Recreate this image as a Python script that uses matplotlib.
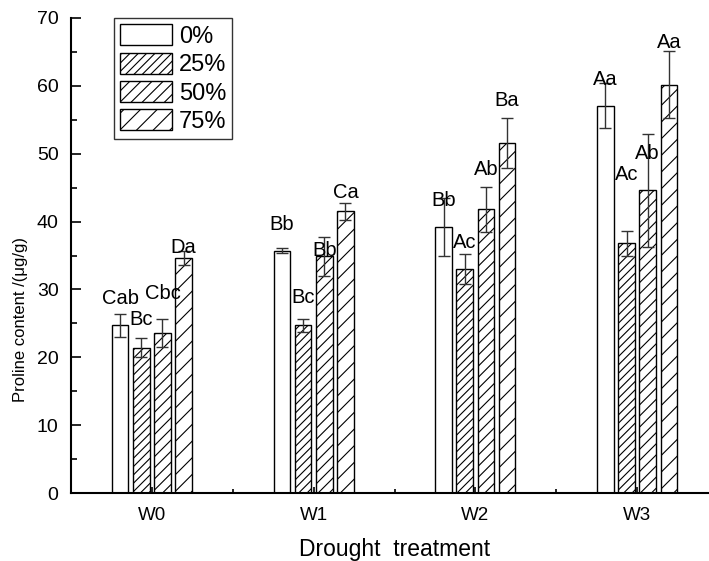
import numpy as np
import matplotlib
matplotlib.use("Agg")
import matplotlib.pyplot as plt

plt.rcParams['font.family'] = ['Liberation Sans', 'DejaVu Sans']
plt.rcParams['hatch.linewidth'] = 0.8

# datos
groups = ['W0', 'W1', 'W2', 'W3']
series = ['0%', '25%', '50%', '75%']
hatches = ['', '////', '///', '//']

means = [
    [24.7, 35.7, 39.2, 57.1],   # 0%
    [21.4, 24.7, 33.0, 36.8],   # 25%
    [23.6, 34.9, 41.8, 44.6],   # 50%
    [34.6, 41.5, 51.6, 60.2],   # 75%
]
errs = [
    [1.7, 0.35, 4.3, 3.3],
    [1.4, 1.0, 2.25, 1.8],
    [2.1, 2.9, 3.3, 8.3],
    [1.0, 1.2, 3.7, 4.9],
]
letters = [
    ['Cab', 'Bb', 'Bb', 'Aa'],
    ['Bc', 'Bc', 'Ac', 'Ac'],
    ['Cbc', 'Bb', 'Ab', 'Ab'],
    ['Da', 'Ca', 'Ba', 'Aa'],
]
# altura (centro) de cada letra
label_y = [
    [28.7, 39.5, 43.1, 60.9],
    [25.6, 28.8, 36.9, 46.9],
    [29.4, 35.8, 47.7, 50.1],
    [36.2, 44.3, 57.8, 66.4],
]

W, H = 709, 561
fig = plt.figure(figsize=(W / 100, H / 100), dpi=100)
ax = fig.add_axes([71 / W, 68 / H, (718 - 71) / W, (493 - 18) / H])

x = np.arange(len(groups))
pitch = 0.131
width = 0.103
for i, s in enumerate(series):
    pos = x + (i - 1.5) * pitch
    ax.bar(pos, means[i], width, color='white', edgecolor='black',
           linewidth=1, hatch=hatches[i], label=s, zorder=2)
    ax.errorbar(pos, means[i], yerr=errs[i], fmt='none', ecolor='#333333',
                elinewidth=1, capsize=4.5, capthick=1, zorder=3)
    for j in range(len(groups)):
        ax.text(pos[j], label_y[i][j], letters[i][j], ha='center', va='center',
                fontsize=14.5, zorder=4)

ax.set_xlim(-0.5, 3.5)
ax.set_ylim(0, 70)
ax.set_xticks(x)
ax.set_xticklabels(groups)
ax.set_xticks(x[:-1] + 0.5, minor=True)
ax.set_yticks(np.arange(0, 71, 10))
ax.set_yticks(np.arange(5, 70, 10), minor=True)

ax.spines['top'].set_visible(False)
ax.spines['right'].set_visible(False)
ax.spines['left'].set_linewidth(1.5)
ax.spines['bottom'].set_linewidth(1.5)
ax.tick_params(axis='y', which='major', direction='in', length=7, width=1.2,
               labelsize=14, pad=9)
ax.tick_params(axis='y', which='minor', direction='in', length=4, width=1.2)
ax.tick_params(axis='x', which='major', direction='in', length=4.5, width=1.2,
               labelsize=13.5, pad=10)
ax.tick_params(axis='x', which='minor', direction='in', length=3, width=1.2)

ax.set_xlabel('Drought  treatment', fontsize=16.5, labelpad=10)
ax.set_ylabel('Proline content /(\u03bcg/g)', fontsize=12)
ax.yaxis.set_label_coords(-0.066, 0.365)

leg = ax.legend(loc='upper left', bbox_to_anchor=(114 / W, 1 - 18.3 / H),
                bbox_transform=fig.transFigure, fontsize=17, frameon=True,
                fancybox=False, edgecolor='black', borderpad=0.25,
                handlelength=2.2, handleheight=1.0, labelspacing=0.2,
                handletextpad=0.3, borderaxespad=0)
leg.get_frame().set_linewidth(1)

fig.savefig('out.png', dpi=100)
